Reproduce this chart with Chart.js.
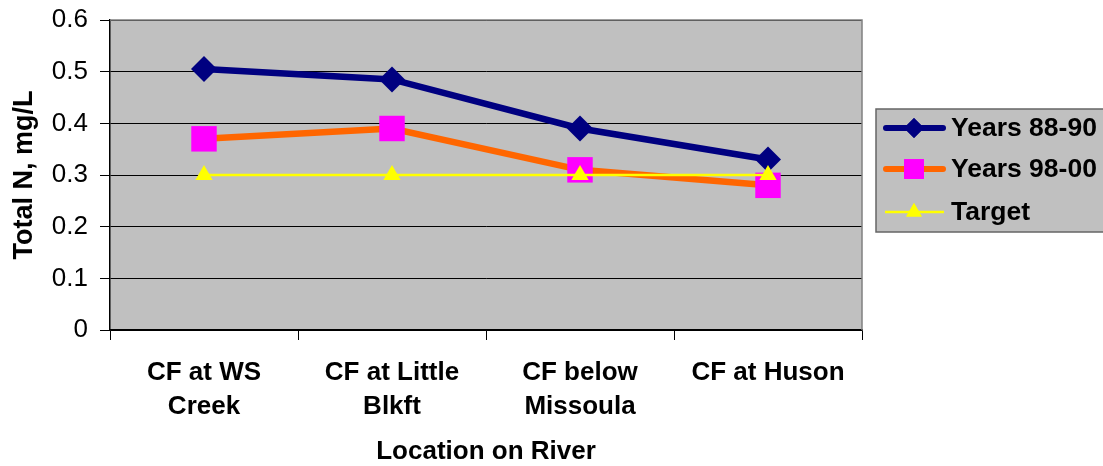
<!DOCTYPE html>
<html>
<head>
<meta charset="utf-8">
<script src="https://cdn.jsdelivr.net/npm/chart.js@4/dist/chart.umd.min.js"></script>
<style>
  body { margin: 0; background: #fff; }
  #wrap { width: 1103px; height: 466px; position: relative; }
</style>
</head>
<body>
<div id="wrap"><canvas id="chart"></canvas></div>
<script>
var locations = [['CF at WS', 'Creek'], ['CF at Little', 'Blkft'], ['CF below', 'Missoula'], 'CF at Huson'];
var years8890 = [0.505, 0.485, 0.39, 0.33];
var years9800 = [0.37, 0.39, 0.31, 0.28];
var target = [0.3, 0.3, 0.3, 0.3];

var sans = "'Liberation Sans', Arial, sans-serif";

// gray plot area behind the lines
var plotBackground = {
    id: 'plotBackground',
    beforeDraw: function (chart) {
        var a = chart.chartArea, ctx = chart.ctx;
        ctx.save();
        ctx.fillStyle = '#c0c0c0';
        ctx.fillRect(a.left, a.top, a.right - a.left, a.bottom - a.top);
        ctx.restore();
    },
    afterDatasetsDraw: function (chart) {
        var a = chart.chartArea, ctx = chart.ctx;
        ctx.save();
        ctx.strokeStyle = '#808080';
        ctx.lineWidth = 1.5;
        ctx.beginPath();
        ctx.moveTo(a.left, a.top);
        ctx.lineTo(a.right, a.top);
        ctx.lineTo(a.right, a.bottom);
        ctx.stroke();
        ctx.restore();
    }
};

// Excel-like legend box on the right
var boxLegend = {
    id: 'boxLegend',
    afterDraw: function (chart) {
        var ctx = chart.ctx;
        var x0 = 876, y0 = 109, w = 240, h = 123;
        ctx.save();
        ctx.fillStyle = '#c0c0c0';
        ctx.fillRect(x0, y0, w, h);
        ctx.strokeStyle = '#666666';
        ctx.lineWidth = 1.5;
        ctx.strokeRect(x0, y0, w, h);
        var rows = [128, 169, 212];
        chart.data.datasets.forEach(function (ds, i) {
            var y = rows[i];
            ctx.strokeStyle = ds.borderColor;
            ctx.lineWidth = ds.legendLine;
            ctx.lineCap = i === 2 ? 'butt' : 'round';
            ctx.beginPath();
            ctx.moveTo(i === 2 ? 885 : 886, y);
            ctx.lineTo(i === 2 ? 944 : 943, y);
            ctx.stroke();
            ctx.fillStyle = ds.pointBackgroundColor;
            ctx.beginPath();
            Chart.helpers.drawPoint(ctx, {
                pointStyle: ds.pointStyle,
                rotation: 0,
                borderWidth: 0,
                radius: ds.legendRadius
            }, 914, y);
            ctx.fill();
            ctx.fillStyle = '#000';
            ctx.font = 'bold 26.5px ' + sans;
            ctx.textBaseline = 'middle';
            ctx.fillText(ds.label, 951, y + 1);
        });
        ctx.restore();
    }
};

var ctx = document.getElementById('chart').getContext('2d');
var chart = new Chart(ctx, {
    type: 'line',
    data: {
        labels: locations,
        datasets: [{
            label: 'Years 88-90',
            data: years8890,
            borderColor: '#000080',
            borderWidth: 6.5,
            legendLine: 6,
            pointStyle: 'rectRot',
            pointRadius: 13,
            legendRadius: 10,
            pointBackgroundColor: '#000080',
            pointBorderWidth: 0,
            order: 2
        }, {
            label: 'Years 98-00',
            data: years9800,
            borderColor: '#ff6600',
            borderWidth: 6.5,
            legendLine: 6,
            pointStyle: 'rect',
            pointRadius: 18,
            legendRadius: 14,
            pointBackgroundColor: '#ff00ff',
            pointBorderWidth: 0,
            order: 1
        }, {
            label: 'Target',
            data: target,
            borderColor: '#ffff00',
            borderWidth: 2.5,
            legendLine: 2.5,
            pointStyle: 'triangle',
            pointRadius: 10,
            legendRadius: 9,
            pointBackgroundColor: '#ffff00',
            pointBorderWidth: 0,
            order: 0
        }]
    },
    options: {
        responsive: true,
        maintainAspectRatio: false,
        animation: false,
        layout: { padding: { top: 20, right: 241, left: 0, bottom: 0 } },
        plugins: {
            legend: { display: false },
            tooltip: { enabled: false }
        },
        scales: {
            x: {
                offset: true,
                afterFit: function (s) {
                    s.height = 136;
                    s.paddingLeft = 0;
                    s.paddingRight = 0;
                },
                grid: {
                    offset: true,
                    drawOnChartArea: false,
                    color: '#000',
                    tickLength: 10
                },
                border: { color: '#000', width: 1.5 },
                ticks: {
                    color: '#000',
                    padding: 16,
                    maxRotation: 0,
                    font: { family: sans, size: 26, weight: 'bold', lineHeight: 1.3 }
                },
                title: {
                    display: true,
                    text: 'Location on River',
                    color: '#000',
                    font: { family: sans, size: 26, weight: 'bold' },
                    padding: { top: 0, bottom: -1 }
                }
            },
            y: {
                min: 0,
                max: 0.6,
                afterFit: function (s) {
                    s.width = 110;
                    s.paddingTop = 0;
                    s.paddingBottom = 0;
                },
                grid: {
                    color: '#000',
                    lineWidth: 1,
                    tickLength: 10
                },
                border: { color: '#000', width: 1.5 },
                ticks: {
                    stepSize: 0.1,
                    color: '#000',
                    padding: 12,
                    font: { family: sans, size: 26 }
                },
                title: {
                    display: true,
                    text: 'Total N, mg/L',
                    color: '#000',
                    font: { family: sans, size: 27, weight: 'bold' },
                    padding: { top: 8, bottom: 10 }
                }
            }
        }
    },
    plugins: [plotBackground, boxLegend]
});
</script>
</body>
</html>
